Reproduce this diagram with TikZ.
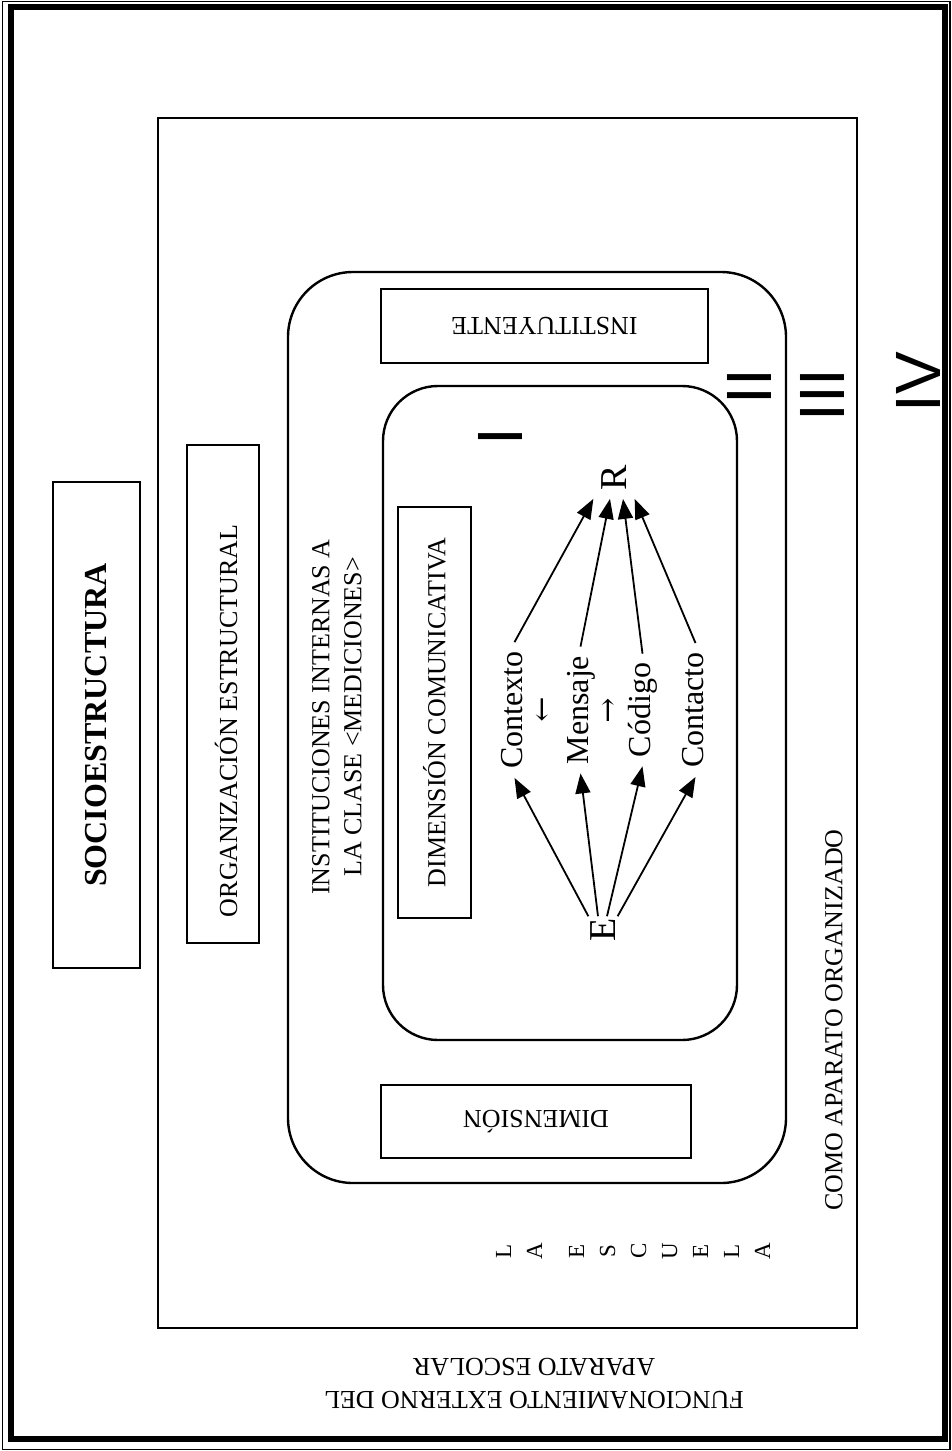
\documentclass[tikz,border=0pt]{standalone}
\usepackage{fontspec}
\setmainfont{Liberation Serif}
\newfontfamily\numfont{Liberation Sans}
\newfontfamily\arrowfont{DejaVu Serif}
\usetikzlibrary{arrows.meta,positioning}

\begin{document}
\begin{tikzpicture}[x=1pt, y=-1pt,
    box/.style={rectangle, draw, line width=2.8pt, inner sep=0pt, font=\fontsize{26}{32}\selectfont},
    wall/.style={draw, line width=2.4pt, rounded corners=#1},
    wall/.default=0pt,
    txt/.style={font=\fontsize{26}{32}\selectfont, align=center, inner sep=0pt},
    word/.style={font=\fontsize{32}{38}\selectfont, rotate=90, text height=22pt, text depth=7pt, inner sep=9pt},
    bigletter/.style={font=\fontsize{38}{40}\selectfont, rotate=90},
    numeral/.style={font=\numfont\fontsize{64}{64}\selectfont, rotate=90, inner sep=0pt},
    pointer/.style={font=\arrowfont\fontsize{30}{30}\selectfont, inner sep=0pt},
    arrow/.style={-{Triangle[length=20pt,width=15pt]}, line width=1.8pt}
]
    \useasboundingbox (0,0) rectangle (952,1451);

    % outer double frame
    \draw[line width=1.5pt] (2.5,1.5) rectangle (950,1449.5);
    \draw[line width=6pt] (11,6.5) rectangle (945,1439);

    % nested containers
    \draw[wall] (158,118) rectangle (857,1328);
    \draw[wall=65pt] (288,272) rectangle (786,1183);
    \draw[wall=55pt] (383,386) rectangle (737,1040);

    % boxes
    \node[box, rotate=90, minimum width=486pt, minimum height=87pt, font=\bfseries\fontsize{32}{38}\selectfont] (socio) at (96.5,725) {SOCIOESTRUCTURA};
    \node[box, rotate=90, minimum width=498pt, minimum height=72pt] (orgbox) at (223,694) {};
    \node[txt, rotate=90] (org) at (226,721) {ORGANIZACIÓN ESTRUCTURAL};
    \node[txt, rotate=90] (instint) at (337,717) {INSTITUCIONES INTERNAS A\\LA CLASE <MEDICIONES>};
    \node[box, rotate=180, minimum width=327pt, minimum height=74pt] (inst) at (544.5,326) {INSTITUYENTE};
    \node[box, rotate=90, minimum width=411pt, minimum height=73pt] (dimcom) at (434.5,712.5) {DIMENSIÓN COMUNICATIVA};
    \node[box, rotate=180, minimum width=310pt, minimum height=73pt] (dim) at (536,1121.5) {DIMENSIÓN};

    % free labels
    \node[txt, rotate=90] (como) at (834,1020) {COMO APARATO ORGANIZADO};
    \node[txt, rotate=90, font=\fontsize{23}{31}\selectfont] (escuela) at (633,1251) {L\\A\\[11pt]E\\S\\C\\U\\E\\L\\A};
    \node[txt, rotate=180, font=\fontsize{26}{33}\selectfont] (func) at (534,1383.5) {FUNCIONAMIENTO EXTERNO DEL\\APARATO ESCOLAR};

    % levels
    \node[numeral] (one) at (500,437) {I};
    \node[numeral] (two) at (749,386.5) {II};
    \node[numeral] (three) at (822,395) {III};
    \node[numeral] (four) at (918,382) {IV};

    % communication scheme
    \node[bigletter, inner sep=8pt] (r) at (614,478) {R};
    \node[bigletter, inner sep=2pt] (e) at (603,930) {E};
    \node[word] (ctx) at (514.5,710) {Contexto};
    \node[word] (men) at (580.5,710) {Mensaje};
    \node[word] (cod) at (642.5,710) {Código};
    \node[word] (con) at (695.5,710) {Contacto};
    \node[pointer] (down) at (542,710) {↓};
    \node[pointer] (up) at (608,710) {↑};

    \draw[arrow] (e.north east) -- (ctx.west);
    \draw[arrow] ([xshift=-5pt]e.east) -- (men.west);
    \draw[arrow] ([xshift=4pt]e.east) -- (cod.west);
    \draw[arrow] (e.south east) -- (con.west);

    \draw[arrow] (ctx.east) -- (r.north west);
    \draw[arrow] (men.east) -- ([xshift=-4pt]r.west);
    \draw[arrow] (cod.east) -- ([xshift=9pt]r.west);
    \draw[arrow] (con.east) -- (r.south west);
\end{tikzpicture}
\end{document}
